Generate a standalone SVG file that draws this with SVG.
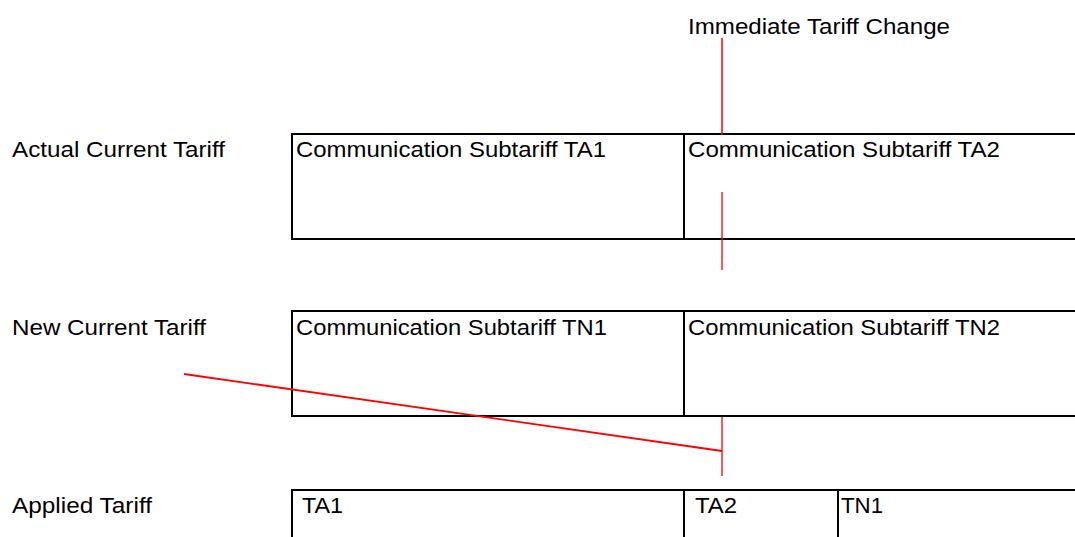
<svg xmlns="http://www.w3.org/2000/svg" width="1075" height="537" viewBox="0 0 1075 537">
<style>
text{font-family:"Liberation Sans",Arial,sans-serif;font-size:22px;fill:#000}
.cell{fill:none;stroke:#000;stroke-width:2}
.red{stroke:#ff0000;fill:none}
</style>
<rect width="1075" height="537" fill="#fff"/>
<g id="label-actual"><text x="12" y="157" textLength="213" lengthAdjust="spacingAndGlyphs">Actual Current Tariff</text></g>
<g id="label-new"><text x="12" y="335" textLength="194" lengthAdjust="spacingAndGlyphs">New Current Tariff</text></g>
<g id="label-applied"><text x="12" y="513" textLength="140" lengthAdjust="spacingAndGlyphs">Applied Tariff</text></g>
<g id="label-change"><text x="688" y="34" textLength="262" lengthAdjust="spacingAndGlyphs">Immediate Tariff Change</text></g>

<g id="cell-TA1"><rect class="cell" x="292" y="134" width="392" height="105"/><text x="296" y="157" textLength="310" lengthAdjust="spacingAndGlyphs">Communication Subtariff TA1</text></g>
<g id="cell-TA2"><rect class="cell" x="684" y="134" width="400" height="105"/><text x="688" y="157" textLength="312" lengthAdjust="spacingAndGlyphs">Communication Subtariff TA2</text></g>

<g id="cell-TN1"><rect class="cell" x="292" y="311" width="392" height="105"/><text x="296" y="335" textLength="311" lengthAdjust="spacingAndGlyphs">Communication Subtariff TN1</text></g>
<g id="cell-TN2"><rect class="cell" x="684" y="311" width="400" height="105"/><text x="688" y="335" textLength="312" lengthAdjust="spacingAndGlyphs">Communication Subtariff TN2</text></g>

<g id="applied-TA1"><rect class="cell" x="292" y="490" width="392" height="60"/><text x="302" y="513" textLength="41" lengthAdjust="spacingAndGlyphs">TA1</text></g>
<g id="applied-TA2"><rect class="cell" x="684" y="490" width="154" height="60"/><text x="695" y="513" textLength="42" lengthAdjust="spacingAndGlyphs">TA2</text></g>
<g id="applied-TN1"><rect class="cell" x="838" y="490" width="250" height="60"/><text x="841" y="513" textLength="42" lengthAdjust="spacingAndGlyphs">TN1</text></g>

<g id="connectors">
<line class="red" x1="722" y1="38" x2="722" y2="135" stroke-width="1.5"/>
<line class="red" x1="722" y1="192" x2="722" y2="270" stroke-width="1.3"/>
<line class="red" x1="722" y1="417" x2="722" y2="476" stroke-width="1.3"/>
<line class="red" x1="184" y1="374" x2="722" y2="451" stroke-width="1.8"/>
</g>
</svg>
